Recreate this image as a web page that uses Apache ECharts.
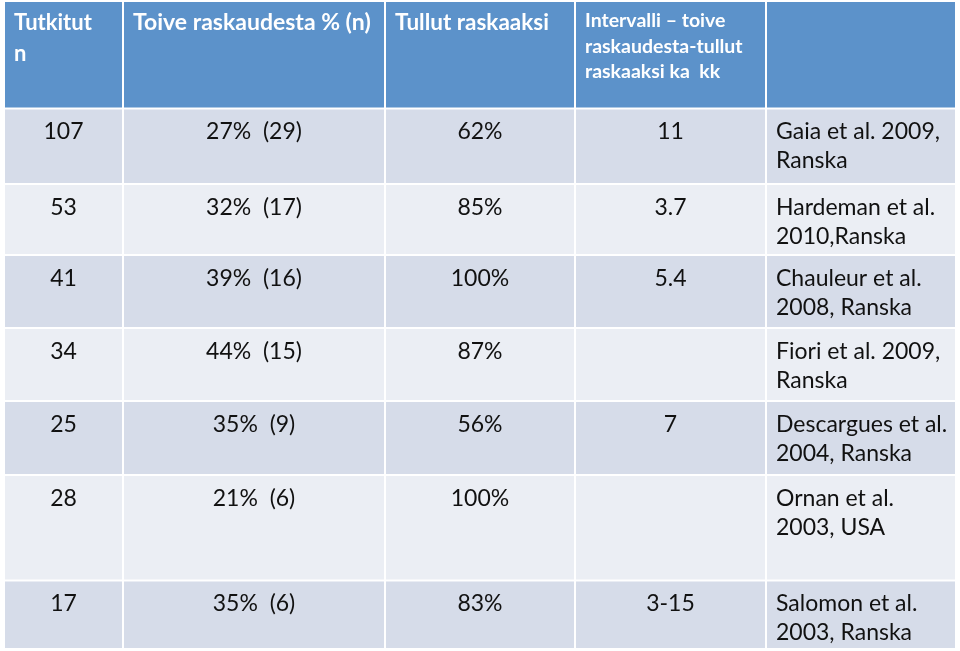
<!DOCTYPE html>
<html>
<head>
<meta charset="utf-8">
<script src="https://cdn.jsdelivr.net/npm/echarts@6/dist/echarts.min.js"></script>
<style>html,body{margin:0;padding:0;background:#fff}#main{width:960px;height:651px}</style>
</head>
<body>
<div id="main"></div>
<script>
// table content
const headers = ['Tutkitut\nn', 'Toive raskaudesta % (n)', 'Tullut raskaaksi',
  'Intervalli \u2013 toive\nraskaudesta-tullut\nraskaaksi ka  kk', ''];
const tutkitut = ['107', '53', '41', '34', '25', '28', '17'];
const toive = ['27%  (29)', '32%  (17)', '39%  (16)', '44%  (15)', '35%  (9)', '21%  (6)', '35%  (6)'];
const tullut = ['62%', '85%', '100%', '87%', '56%', '100%', '83%'];
const intervalli = ['11', '3.7', '5.4', '', '7', '', '3-15'];
const lahde = ['Gaia et al. 2009,\nRanska', 'Hardeman et al.\n2010,Ranska', 'Chauleur et al.\n2008, Ranska',
  'Fiori et al. 2009,\nRanska', 'Descargues et al.\n2004, Ranska', 'Ornan et al.\n2003, USA',
  'Salomon et al.\n2003, Ranska'];

// layout
const colEdges = [4, 123, 385, 575, 766, 956];
const rowEdges = [1, 108.5, 184, 255, 328, 401, 475, 580.5, 649];
const headerFont = [22, 23, 22.5, 19.5, 20];
const columns = [tutkitut, toive, tullut, intervalli, lahde];

const cells = [];
headers.forEach((h, c) => cells.push([c, 0, h]));
tutkitut.forEach((_, r) => {
  columns.forEach((col, c) => cells.push([c, r + 1, col[r]]));
});

const chart = echarts.init(document.getElementById('main'));

const renderCell = (params, api) => {
  const c = api.value(0);
  const r = api.value(1);
  const text = cells[params.dataIndex][2];
  const p0 = api.coord([colEdges[c] + 1, rowEdges[r] + 1]);
  const p1 = api.coord([colEdges[c + 1] - 1, rowEdges[r + 1] - 1]);
  const w = p1[0] - p0[0];
  const h = p1[1] - p0[1];
  let fill;
  if (r === 0) {
    fill = '#5C92CA';
  } else {
    fill = r % 2 === 1 ? '#D6DCE9' : '#EBEEF4';
  }
  let style;
  if (r === 0) {
    const small = c === 3;
    style = {
      text: text,
      x: p0[0] + 9,
      y: p0[1] + (small ? 6 : 5),
      fill: '#fff',
      font: 'bold ' + headerFont[c] + 'px Lato',
      lineHeight: small ? 25.5 : 31,
      textAlign: 'left',
      textVerticalAlign: 'top'
    };
  } else {
    const left = c === 4;
    style = {
      text: text,
      x: left ? p0[0] + 9 : p0[0] + w / 2,
      y: p0[1] + 8,
      fill: '#111',
      font: '23px Lato',
      lineHeight: 29,
      textAlign: left ? 'left' : 'center',
      textVerticalAlign: 'top'
    };
  }
  return {
    type: 'group',
    children: [
      { type: 'rect', shape: { x: p0[0], y: p0[1], width: w, height: h }, style: { fill: fill } },
      { type: 'text', style: style }
    ]
  };
};

chart.setOption({
  animation: false,
  grid: { left: 0, right: 0, top: 0, bottom: 0 },
  xAxis: { type: 'value', min: 0, max: 960, show: false },
  yAxis: { type: 'value', min: 0, max: 651, inverse: true, show: false },
  series: [
    {
      type: 'custom',
      renderItem: renderCell,
      data: cells.map((d) => [d[0], d[1]]),
      encode: { x: 0, y: 1 },
      clip: false
    }
  ]
});
</script>
</body>
</html>
